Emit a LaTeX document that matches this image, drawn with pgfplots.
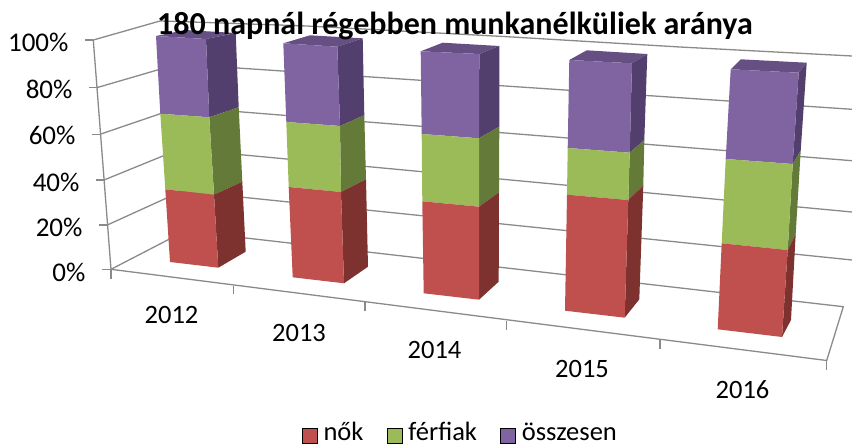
\documentclass[border=0pt]{standalone}
\usepackage{pgfplots}
\pgfplotsset{compat=1.18}
\usepackage{fontspec}
\setmainfont{Carlito}
\definecolor{grid}{HTML}{8A8A8A}
\definecolor{redF}{HTML}{C0504D}\definecolor{redS}{HTML}{7D3230}
\definecolor{greenF}{HTML}{9BBB59}\definecolor{greenS}{HTML}{647A39}
\definecolor{purpF}{HTML}{8064A2}\definecolor{purpS}{HTML}{533F6E}\definecolor{purpT}{HTML}{664F82}
\pgfplotsset{
 g/.style={draw=grid,line width=1.3pt},
 f/.style={fill=#1,draw=none,forget plot},
}
\begin{document}
\begin{tikzpicture}
\clip (0,0) rectangle (852pt,447pt);
\begin{axis}[
 width=852pt,height=447pt,scale only axis,
 xmin=0,xmax=852,ymin=0,ymax=447,y dir=reverse,
 hide axis,clip=false,
 legend columns=-1,
 legend image code/.code={\fill[#1] (0pt,-11pt) rectangle (15pt,4pt);},
 legend style={draw=none,fill=none,font=\fontsize{26.5}{28}\selectfont,
   at={(axis cs:460.5,432)},anchor=center,
   /tikz/every odd column/.append style={column sep=4pt},
   /tikz/every even column/.append style={column sep=21.5pt}},
]
% walls: gridlines
\addplot[g,forget plot] coordinates {(93.3,40)(160,21)(178,21.5)(307,26)(507,36.7)(680,47)(852,56)};
\addplot[g,forget plot] coordinates {(96.7,87.7)(178,64)(852,109.3)};
\addplot[g,forget plot] coordinates {(100,134.3)(180,107)(852,160.7)};
\addplot[g,forget plot] coordinates {(104,180)(180,149)(852,212)};
\addplot[g,forget plot] coordinates {(107.3,225)(182,191)(852,260)};
\addplot[g,forget plot] coordinates {(111,269.3)(185,231)(843.3,306.7)(826.7,360.5)(111,269.3)};
\addplot[g,forget plot] coordinates {(93.3,40)(111,269.3)};
% ticks
\addplot[g,forget plot] coordinates {(85,40)(93.3,40)};
\addplot[g,forget plot] coordinates {(89,87.7)(96.7,87.7)};
\addplot[g,forget plot] coordinates {(92.3,134.3)(100,134.3)};
\addplot[g,forget plot] coordinates {(96,180)(104,180)};
\addplot[g,forget plot] coordinates {(99,225)(107.3,225)};
\addplot[g,forget plot] coordinates {(102,269.3)(111,269.3)};
\addplot[g,forget plot] coordinates {(111,269.3)(111,279)};
\addplot[g,forget plot] coordinates {(233.3,285.7)(233.3,294)};
\addplot[g,forget plot] coordinates {(365,302.3)(365,311)};
\addplot[g,forget plot] coordinates {(506.7,321)(506.7,329.5)};
\addplot[g,forget plot] coordinates {(660,340)(660,348.5)};
\addplot[g,forget plot] coordinates {(826.7,360.5)(826.7,370)};
% bar 2012
\addplot[f=purpT] coordinates {(156,36)(206,39)(235.7,33)(185,30)} -- cycle;
\addplot[f=purpS] coordinates {(206,39)(235.7,33)(238.7,107.3)(209.3,117.3)} -- cycle;
\addplot[f=greenS] coordinates {(209.3,117.3)(238.7,107.3)(242.3,181.7)(214,194.7)} -- cycle;
\addplot[f=redS] coordinates {(214,194.7)(242.3,181.7)(245.7,251.7)(218.3,267.7)} -- cycle;
\addplot[f=purpF] coordinates {(156,36)(206,39)(209.3,117.3)(160.3,113.7)} -- cycle;
\addplot[f=greenF] coordinates {(160.3,113.7)(209.3,117.3)(214,194.7)(165.3,189.3)} -- cycle;
\addplot[f=redF] coordinates {(165.3,189.3)(214,194.7)(218.3,267.7)(170,262)} -- cycle;
% bar 2013
\addplot[f=purpT] coordinates {(283.3,43.3)(337.3,46.7)(362.7,38.3)(310,35.3)} -- cycle;
\addplot[f=purpS] coordinates {(337.3,46.7)(362.7,38.3)(364.3,115.3)(340,126)} -- cycle;
\addplot[f=greenS] coordinates {(340,126)(364.3,115.3)(366,179.3)(341,192)} -- cycle;
\addplot[f=redS] coordinates {(341,192)(366,179.3)(368,266.7)(344,283.3)} -- cycle;
\addplot[f=purpF] coordinates {(283.3,43.3)(337.3,46.7)(340,126)(286.3,122)} -- cycle;
\addplot[f=greenF] coordinates {(286.3,122)(340,126)(341,192)(288.7,187)} -- cycle;
\addplot[f=redF] coordinates {(288.7,187)(341,192)(344,283.3)(292.7,277.3)} -- cycle;
% bar 2014
\addplot[f=purpT] coordinates {(420.7,51.3)(479.3,54)(499.3,46)(442.7,42.7)} -- cycle;
\addplot[f=purpS] coordinates {(479.3,54)(499.3,46)(499.3,126.7)(479,138.3)} -- cycle;
\addplot[f=greenS] coordinates {(479,138.3)(499.3,126.7)(499,192.3)(479,206.7)} -- cycle;
\addplot[f=redS] coordinates {(479,206.7)(499,192.3)(498.7,281.7)(479,299.7)} -- cycle;
\addplot[f=purpF] coordinates {(420.7,51.3)(479.3,54)(479,138.3)(421.7,134)} -- cycle;
\addplot[f=greenF] coordinates {(421.7,134)(479,138.3)(479,206.7)(422.3,201.3)} -- cycle;
\addplot[f=redF] coordinates {(422.3,201.3)(479,206.7)(479,299.7)(423.7,293.3)} -- cycle;
% bar 2015
\addplot[f=purpT] coordinates {(569.3,60)(632,63.3)(647.3,54)(586.7,50.3)} -- cycle;
\addplot[f=purpS] coordinates {(632,63.3)(647.3,54)(644.3,140)(629.7,152.7)} -- cycle;
\addplot[f=greenS] coordinates {(629.7,152.7)(644.3,140)(643.3,185.7)(628.3,200)} -- cycle;
\addplot[f=redS] coordinates {(628.3,200)(643.3,185.7)(639.3,299.3)(624.7,317.7)} -- cycle;
\addplot[f=purpF] coordinates {(569.3,60)(632,63.3)(629.7,152.7)(567.7,148)} -- cycle;
\addplot[f=greenF] coordinates {(567.7,148)(629.7,152.7)(628.3,200)(567,194.7)} -- cycle;
\addplot[f=redF] coordinates {(567,194.7)(628.3,200)(624.7,317.7)(565,310.7)} -- cycle;
% bar 2016
\addplot[f=purpT] coordinates {(730.7,69.3)(798.7,72.7)(806.7,62.7)(740.7,59.3)} -- cycle;
\addplot[f=purpS] coordinates {(798.7,72.7)(806.7,62.7)(800.7,150.7)(792.7,164)} -- cycle;
\addplot[f=greenS] coordinates {(792.7,164)(800.7,150.7)(795.7,234)(787.7,250)} -- cycle;
\addplot[f=redS] coordinates {(787.7,250)(795.7,234)(791,320)(782,337)} -- cycle;
\addplot[f=purpF] coordinates {(730.7,69.3)(798.7,72.7)(792.7,164)(725.7,159)} -- cycle;
\addplot[f=greenF] coordinates {(725.7,159)(792.7,164)(787.7,250)(721.7,243.3)} -- cycle;
\addplot[f=redF] coordinates {(721.7,243.3)(787.7,250)(782,337)(717.7,329.3)} -- cycle;
% legend
\addlegendimage{fill=redF}\addlegendentry{nők}
\addlegendimage{fill=greenF}\addlegendentry{férfiak}
\addlegendimage{fill=purpF}\addlegendentry{összesen}
% text
\node[font=\fontsize{27}{30}\selectfont,anchor=east] at (axis cs:72,42.7) {100\%};
\node[font=\fontsize{27}{30}\selectfont,anchor=east] at (axis cs:76,89) {80\%};
\node[font=\fontsize{27}{30}\selectfont,anchor=east] at (axis cs:79,135.7) {60\%};
\node[font=\fontsize{27}{30}\selectfont,anchor=east] at (axis cs:83,182) {40\%};
\node[font=\fontsize{27}{30}\selectfont,anchor=east] at (axis cs:86,227) {20\%};
\node[font=\fontsize{27}{30}\selectfont,anchor=east] at (axis cs:89,272) {0\%};
\node[font=\fontsize{26.5}{30}\selectfont] at (axis cs:171.5,315) {2012};
\node[font=\fontsize{26.5}{30}\selectfont] at (axis cs:299,333) {2013};
\node[font=\fontsize{26.5}{30}\selectfont] at (axis cs:434.5,350) {2014};
\node[font=\fontsize{26.5}{30}\selectfont] at (axis cs:582,369) {2015};
\node[font=\fontsize{26.5}{30}\selectfont] at (axis cs:742.5,390) {2016};
\node[font=\bfseries\fontsize{32}{36}\selectfont] at (axis cs:455,26) {180 napnál régebben munkanélküliek aránya};
\end{axis}
\end{tikzpicture}
\end{document}
